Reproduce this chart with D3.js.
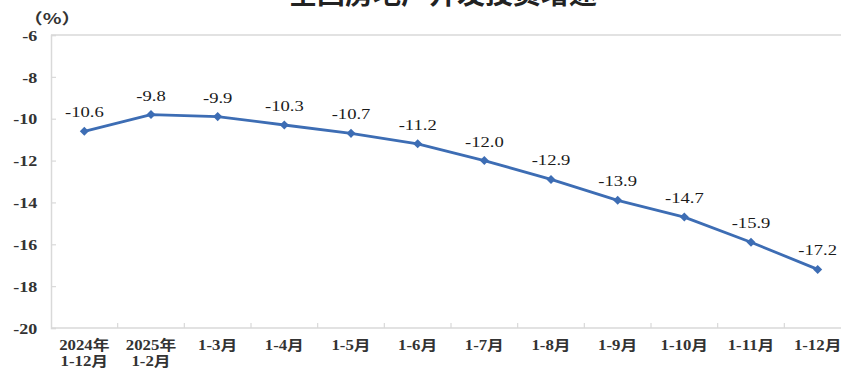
<!DOCTYPE html>
<html>
<head>
<meta charset="utf-8">
<script src="https://cdn.jsdelivr.net/npm/d3@7"></script>
<style>
  html, body { margin: 0; padding: 0; background: #fff; }
  svg { display: block; }
</style>
</head>
<body>
<svg id="chart" width="841" height="369"></svg>
<script>
// Growth rate of national real-estate development investment (%)
const categories = [
  ["2024年", "1-12月"], ["2025年", "1-2月"], ["1-3月"], ["1-4月"], ["1-5月"], ["1-6月"],
  ["1-7月"], ["1-8月"], ["1-9月"], ["1-10月"], ["1-11月"], ["1-12月"]
];
const growth = [-10.6, -9.8, -9.9, -10.3, -10.7, -11.2, -12.0, -12.9, -13.9, -14.7, -15.9, -17.2];
const yTicks = [-6, -8, -10, -12, -14, -16, -18, -20];
const title = "全国房地产开发投资增速";
const unitLabel = "（%）";

const svg = d3.select("#chart");
const plot = { left: 51, right: 851, top: 35, bottom: 328 };
const textFont = "'Liberation Serif', 'DejaVu Serif', 'Noto Sans CJK SC', serif";
const stretch = "scale(1.2,1)";
// plain hyphen-minus, one decimal where needed
const fmtTick = d => String(d);
const fmtValue = d => d.toFixed(1);

const x = d3.scaleBand()
  .domain(categories.map((d, i) => i))
  .range([plot.left, plot.right])
  .paddingInner(0).paddingOuter(0);
const y = d3.scaleLinear().domain([-20, -6]).range([plot.bottom, plot.top]);

// title (runs off the top of the canvas)
svg.append("text")
  .attr("x", 443).attr("y", 4)
  .attr("text-anchor", "middle")
  .attr("font-family", "'Noto Sans CJK SC', sans-serif")
  .attr("font-weight", "bold")
  .attr("font-size", 28)
  .attr("fill", "#222")
  .text(title);

// unit label
svg.append("g")
  .attr("transform", "translate(52,24)")
  .append("text")
  .attr("transform", "scale(1.3,1)")
  .attr("text-anchor", "middle")
  .attr("font-family", "'Noto Sans CJK SC', sans-serif")
  .attr("font-weight", "bold")
  .attr("font-size", 15)
  .attr("fill", "#333")
  .text(unitLabel);

// top border of plot area
svg.append("line")
  .attr("x1", plot.left).attr("x2", plot.right)
  .attr("y1", plot.top).attr("y2", plot.top)
  .attr("stroke", "#d9d9d9").attr("stroke-width", 1.5);

// y axis
const yAxis = svg.append("g")
  .attr("transform", `translate(${plot.left},0)`)
  .call(d3.axisLeft(y).tickValues(yTicks).tickSize(-5).tickPadding(0).tickFormat(fmtTick));
yAxis.attr("font-family", null).attr("font-size", null);
yAxis.select(".domain").attr("stroke", "#d9d9d9").attr("stroke-width", 1.5);
yAxis.selectAll(".tick line").attr("stroke", "#d9d9d9").attr("stroke-width", 1.2);
yAxis.selectAll(".tick text")
  .attr("x", -11.5).attr("dy", "0.35em")
  .attr("transform", stretch)
  .attr("font-family", textFont)
  .attr("font-weight", "bold")
  .attr("font-size", 15)
  .attr("fill", "#333");

// x axis with ticks at category boundaries
const boundaries = d3.range(categories.length + 1).map(i => plot.left + i * x.bandwidth());
const xAxisG = svg.append("g");
xAxisG.append("line")
  .attr("x1", plot.left).attr("x2", plot.right)
  .attr("y1", plot.bottom).attr("y2", plot.bottom)
  .attr("stroke", "#d9d9d9").attr("stroke-width", 1.5);
xAxisG.selectAll("line.btick")
  .data(boundaries.slice(1))
  .join("line")
  .attr("class", "btick")
  .attr("x1", d => d).attr("x2", d => d)
  .attr("y1", plot.bottom).attr("y2", plot.bottom - 5)
  .attr("stroke", "#d9d9d9").attr("stroke-width", 1.2);

const xLabels = xAxisG.selectAll("g.xlab")
  .data(categories)
  .join("g")
  .attr("class", "xlab")
  .attr("transform", (d, i) => `translate(${x(i) + x.bandwidth() / 2},0)`);
xLabels.selectAll("text")
  .data(d => d)
  .join("text")
  .attr("x", 0)
  .attr("y", (d, j) => 350 + j * 16)
  .attr("transform", stretch)
  .attr("text-anchor", "middle")
  .attr("font-family", textFont)
  .attr("font-weight", "bold")
  .attr("font-size", 14)
  .attr("fill", "#333")
  .text(d => d);

// line series
const cx = i => x(i) + x.bandwidth() / 2;
const line = d3.line().x((d, i) => cx(i)).y(d => y(d));
svg.append("path")
  .datum(growth)
  .attr("d", line)
  .attr("fill", "none")
  .attr("stroke", "#3d6db4")
  .attr("stroke-width", 2.8)
  .attr("stroke-linejoin", "round");

// diamond markers
svg.selectAll("path.marker")
  .data(growth)
  .join("path")
  .attr("class", "marker")
  .attr("d", d3.symbol().type(d3.symbolDiamond2).size(52))
  .attr("transform", (d, i) => `translate(${cx(i)},${y(d)})`)
  .attr("fill", "#3d6db4");

// value labels
svg.selectAll("g.vlabel")
  .data(growth)
  .join("g")
  .attr("class", "vlabel")
  .attr("transform", (d, i) => `translate(${cx(i)},${y(d) - 14})`)
  .append("text")
  .attr("transform", stretch)
  .attr("text-anchor", "middle")
  .attr("font-family", textFont)
  .attr("font-size", 15.5)
  .attr("fill", "#1a1a1a")
  .text(fmtValue);
</script>
</body>
</html>
